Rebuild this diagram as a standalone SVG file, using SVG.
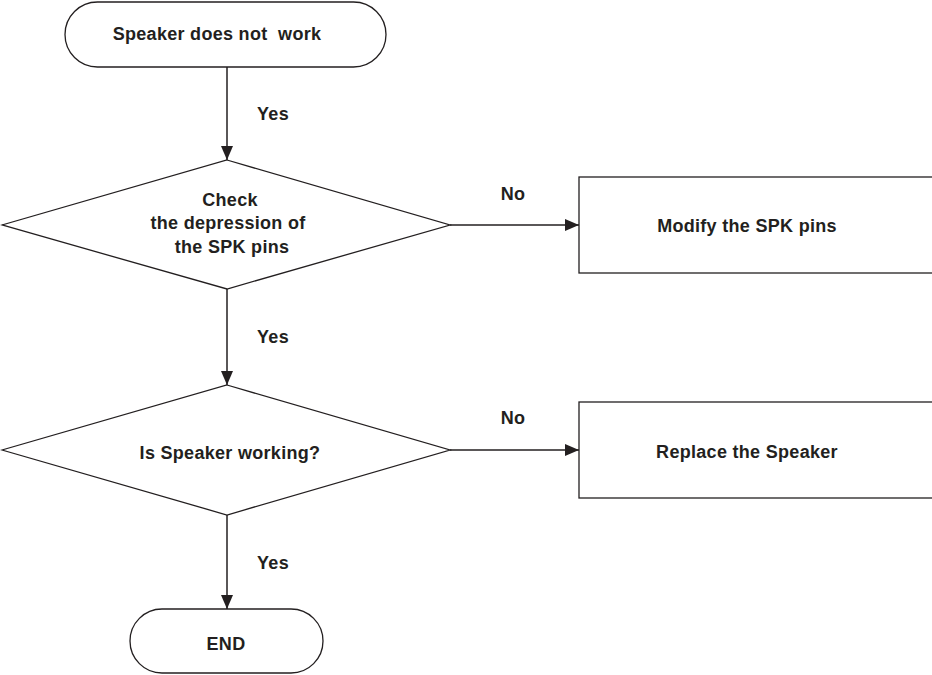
<svg xmlns="http://www.w3.org/2000/svg" width="932" height="675" viewBox="0 0 932 675">
<defs>
<marker id="arr" markerUnits="userSpaceOnUse" markerWidth="14" markerHeight="14" viewBox="0 0 14 14" refX="14" refY="7" orient="auto">
<path d="M0,1 L14,7 L0,13 Z" fill="#231f20"/>
</marker>
</defs>
<style>
.s{fill:#fff;stroke:#231f20;stroke-width:1.3}
.t{font-family:"Liberation Sans",Arial,sans-serif;font-weight:bold;font-size:18px;letter-spacing:0.3px;fill:#231f20;text-anchor:middle}
.c{stroke:#231f20;stroke-width:1.5;fill:none;marker-end:url(#arr)}
</style>
<rect width="932" height="675" fill="#fff"/>
<g id="connectors">
<line class="c" x1="227" y1="67" x2="227" y2="160"/>
<line class="c" x1="450" y1="225" x2="579" y2="225"/>
<line class="c" x1="227" y1="289" x2="227" y2="385"/>
<line class="c" x1="450" y1="450" x2="579" y2="450"/>
<line class="c" x1="227" y1="515" x2="227" y2="609"/>
<text class="t" x="273" y="120">Yes</text>
<text class="t" x="513" y="200">No</text>
<text class="t" x="273" y="343">Yes</text>
<text class="t" x="513" y="424">No</text>
<text class="t" x="273" y="569">Yes</text>
</g>
<g id="start">
<rect class="s" x="65" y="2" width="321" height="65" rx="32.5"/>
<text class="t" x="217" y="40" style="white-space:pre">Speaker does not  work</text>
</g>
<g id="check">
<polygon class="s" points="227,160 450,225 227,289 2,225"/>
<text class="t" x="230" y="206">Check</text>
<text class="t" x="228" y="229">the depression of</text>
<text class="t" x="232" y="253">the SPK pins</text>
</g>
<g id="modify">
<rect class="s" x="579" y="177" width="360" height="96"/>
<text class="t" x="747" y="232">Modify the SPK pins</text>
</g>
<g id="working">
<polygon class="s" points="227,385 450,450 227,515 2,450"/>
<text class="t" x="230" y="459">Is Speaker working?</text>
</g>
<g id="replace">
<rect class="s" x="579" y="402" width="360" height="96"/>
<text class="t" x="747" y="458">Replace the Speaker</text>
</g>
<g id="end">
<rect class="s" x="130" y="609" width="193" height="64" rx="32"/>
<text class="t" x="226" y="650">END</text>
</g>
</svg>
